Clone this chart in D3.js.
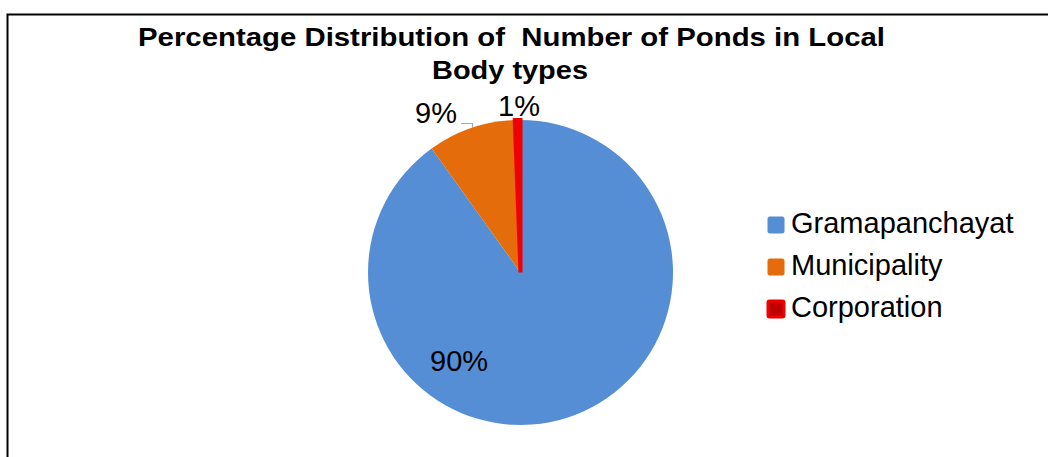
<!DOCTYPE html>
<html>
<head>
<meta charset="utf-8">
<title>Ponds by Local Body type</title>
<script src="https://d3js.org/d3.v7.min.js"></script>
<style>
  body { margin: 0; background: #fff; }
  svg text { font-family: "Liberation Sans", Arial, sans-serif; }
</style>
</head>
<body>
<div id="chart"></div>
<script>
// data
var categories = ["Gramapanchayat", "Municipality", "Corporation"];
var values = [90.1, 9.3, 0.6];
var labels = ["90%", "9%", "1%"];
var colors = ["#558ed5", "#e46c0a", "#f00000"];

var W = 1048, H = 457;
var svg = d3.select("#chart").append("svg")
  .attr("width", W).attr("height", H);

// chart frame (runs off right & bottom)
svg.append("rect")
  .attr("x", 7.5).attr("y", 14.5)
  .attr("width", W + 20).attr("height", H + 20)
  .attr("fill", "#fff")
  .attr("stroke", "#000").attr("stroke-width", 2);

// title, 2 lines
var titleLines = ["Percentage Distribution of  Number of Ponds in Local", "Body types"];
var titleW = [747, 156];
svg.selectAll(".title").data(titleLines).enter().append("text")
  .attr("class", "title")
  .attr("x", function(d, i) { return i == 0 ? 511.5 : 510; })
  .attr("y", function(d, i) { return 46 + i * 33; })
  .attr("text-anchor", "middle")
  .attr("font-weight", "bold")
  .attr("font-size", 26)
  .attr("textLength", function(d, i) { return titleW[i]; })
  .attr("lengthAdjust", "spacingAndGlyphs")
  .style("white-space", "pre")
  .text(function(d) { return d; });

var cx = 520.5, cy = 272.5, r = 152.5;
var pie = d3.pie().sort(null).value(function(d) { return d; });
var arcs = pie(values);
var arc = d3.arc().innerRadius(0).outerRadius(r);

var g = svg.append("g").attr("transform", "translate(" + cx + "," + cy + ")");
g.selectAll("path").data(arcs).enter().append("path")
  .attr("d", arc)
  .attr("fill", function(d, i) { return colors[i]; })
  .attr("stroke", function(d, i) { return i == 2 ? colors[i] : "none"; })
  .attr("stroke-width", 4);

// data labels
var labelPos = [[430, 371], [415, 123], [498, 116]];
svg.selectAll(".lbl").data(labels).enter().append("text")
  .attr("class", "lbl")
  .attr("x", function(d, i) { return labelPos[i][0]; })
  .attr("y", function(d, i) { return labelPos[i][1]; })
  .attr("font-size", 29)
  .attr("fill", "#000")
  .text(function(d) { return d; });

// leader line for 9%
svg.append("path")
  .attr("d", "M461,123.5H472.5V128")
  .attr("fill", "none")
  .attr("stroke", "#a6a6a6")
  .attr("stroke-width", 1.2);

// legend
var legend = svg.append("g").attr("transform", "translate(767,233)");
var rows = legend.selectAll("g").data(categories).enter().append("g")
  .attr("transform", function(d, i) { return "translate(0," + (i * 42) + ")"; });
rows.append("rect")
  .attr("x", 1).attr("y", -16)
  .attr("width", 16).attr("height", 16)
  .attr("rx", 1.5)
  .attr("fill", function(d, i) { return i == 2 ? "#c00000" : colors[i]; })
  .attr("stroke", function(d, i) { return colors[i]; })
  .attr("stroke-width", function(d, i) { return i == 2 ? 3 : 1; });
rows.append("text")
  .attr("x", 24).attr("y", 0)
  .attr("font-size", 29)
  .attr("fill", "#000")
  .text(function(d) { return d; });
</script>
</body>
</html>
